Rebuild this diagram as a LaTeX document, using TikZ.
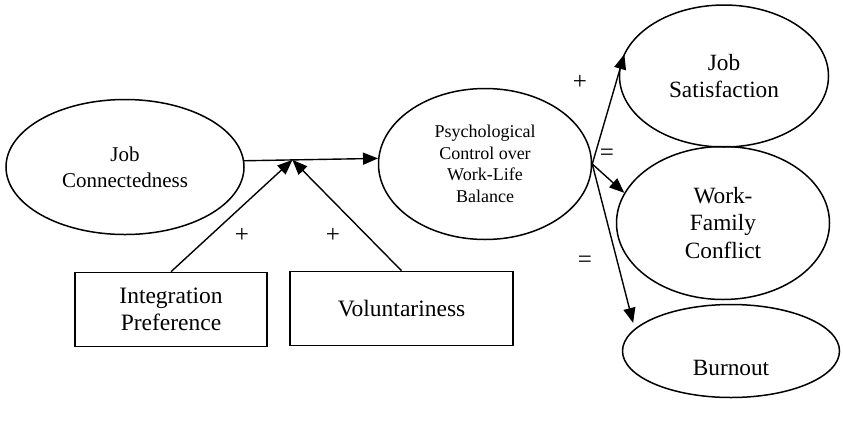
\documentclass[tikz,border=0pt]{standalone}
\usepackage{fontspec}
\setmainfont{Liberation Serif}
\usetikzlibrary{shapes, arrows.meta, positioning, calc}

\begin{document}
\begin{tikzpicture}[
        x=1pt, y=-1pt,
        construct/.style={ellipse, draw=black, line width=1.5pt, inner sep=0pt, align=center, font=\fontsize{23.3}{27.5}\selectfont},
        moderator/.style={rectangle, draw=black, line width=1.6pt, minimum width=192pt, minimum height=74pt, align=center, font=\fontsize{23.5}{27}\selectfont},
        sign/.style={font=\fontsize{25}{25}\selectfont, inner sep=0pt},
        arrow/.style={-{Triangle[length=15pt, width=12pt]}, line width=1.4pt, draw=black}
    ]
    \useasboundingbox (0,0) rectangle (843,432);

    % Predictor
    \node[construct, minimum width=238pt, minimum height=135pt, font=\fontsize{21}{26}\selectfont] (jobconn) at (125,167) {Job\\Connectedness};

    % Mediator
    \node[construct, minimum width=213pt, minimum height=151pt, font=\fontsize{18}{21.5}\selectfont] (psych) at (485,164) {Psychological\\Control over\\Work-Life\\Balance};
    \draw[arrow] (jobconn.3) -- (psych.177);
    \coordinate (junc) at ($(jobconn.3)!0.36!(psych.177)$);

    % Moderators
    \node[moderator] (intpref) at (171,309.5) {Integration\\Preference};
    \node[moderator, minimum width=223pt] (volunt) at (401.5,308.5) {Voluntariness};
    \draw[arrow] (intpref.north) -- (junc);
    \draw[arrow] (volunt.north) -- (junc);
    \node[sign] (plusint) at (242,235) {+};
    \node[sign] (plusvol) at (333,235) {+};

    % Outcomes
    \node[construct, minimum width=209pt, minimum height=142pt] (jobsat) at (724,76) {Job\\Satisfaction};
    \node[construct, minimum width=213pt, minimum height=153pt] (wfc) at (723,223) {Work-\\Family\\Conflict};
    \node[construct, minimum width=217pt, minimum height=93pt] (burnout) at (731,351) {\raisebox{-24pt}[0pt][0pt]{Burnout}};
    \draw[arrow, shorten >=3pt] (psych.east) -- (jobsat.166);
    \draw[arrow] (psych.east) -- (wfc.163);
    \draw[arrow, shorten >=6pt] (psych.east) -- (burnout.167);
    \node[sign] (plussat) at (580,82) {+};
    \node[sign] (eqwfc) at (607,155) {=};
    \node[sign] (eqburn) at (585,262) {=};

\end{tikzpicture}
\end{document}
